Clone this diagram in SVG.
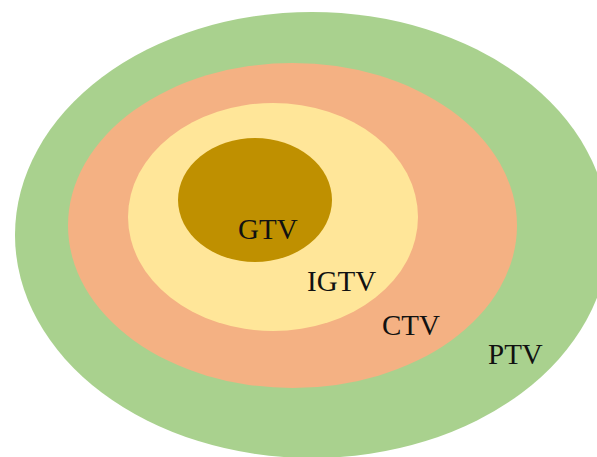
<svg xmlns="http://www.w3.org/2000/svg" width="597" height="457" viewBox="0 0 597 457">
<style>
.lbl{font-family:"Liberation Serif","Times New Roman",serif;font-size:29px;fill:#111}
</style>
<rect width="597" height="457" fill="#ffffff"/>
<g id="PTV"><ellipse cx="312" cy="235" rx="297" ry="223" fill="#a9d18e"/></g>
<g id="CTV"><ellipse cx="292.5" cy="225.5" rx="224.5" ry="162.5" fill="#f4b183"/></g>
<g id="IGTV"><ellipse cx="273" cy="217" rx="145" ry="114" fill="#ffe699"/></g>
<g id="GTV"><ellipse cx="255" cy="200" rx="77" ry="62" fill="#bf9000"/></g>
<g id="labels">
<text class="lbl" x="238" y="239">GTV</text>
<text class="lbl" x="307" y="291">IGTV</text>
<text class="lbl" x="382" y="335">CTV</text>
<text class="lbl" x="488" y="364">PTV</text>
</g>
</svg>
